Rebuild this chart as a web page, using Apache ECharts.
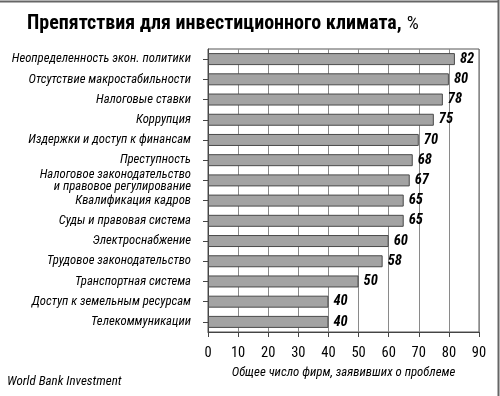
<!DOCTYPE html>
<html><head><meta charset="utf-8">
<script src="https://cdn.jsdelivr.net/npm/echarts@6/dist/echarts.min.js"></script>
<style>html,body{margin:0;padding:0;background:#fff}#c{width:500px;height:396px}</style>
</head><body><div id="c"></div>
<script>
var categories = [
  "Неопределенность экон. политики",
  "Отсутствие макростабильности",
  "Налоговые ставки",
  "Коррупция",
  "Издержки и доступ к финансам",
  "Преступность",
  "Налоговое законодательство\nи правовое регулирование",
  "Квалификация кадров",
  "Суды и правовая система",
  "Электроснабжение",
  "Трудовое законодательство",
  "Транспортная система",
  "Доступ к земельным ресурсам",
  "Телекоммуникации"
];
var values = [82, 80, 78, 75, 70, 68, 67, 65, 65, 60, 58, 50, 40, 40];
var xTicks = [0, 10, 20, 30, 40, 50, 60, 70, 80, 90];
var titleText = "Препятствия для инвестиционного климата,";
var xAxisName = "Общее число фирм, заявивших о проблеме";
var sourceText = "World Bank Investment";

var FONT = "'Roboto Condensed','Liberation Sans',sans-serif";
var chart = echarts.init(document.getElementById('c'), null, {renderer: 'canvas'});
chart.setOption({
  animation: false,
  backgroundColor: '#fff',
  title: {
    text: '{b|' + titleText + '} {p|%}',
    left: 22, top: 9,
    textStyle: {
      rich: {
        b: {fontFamily: FONT, fontWeight: 'bold', fontSize: 20, color: '#000'},
        p: {fontFamily: FONT, fontWeight: 'normal', fontSize: 19, color: '#000'}
      }
    }
  },
  grid: {left: 208, right: 21, top: 49, bottom: 64, show: true, borderColor: '#555', borderWidth: 1, containLabel: false, outerBoundsMode: 'none'},
  xAxis: {
    type: 'value', min: 0, max: 90, interval: 10,
    axisLine: {show: true, lineStyle: {color: '#444', width: 1}},
    axisTick: {show: true, length: 5, lineStyle: {color: '#444'}},
    axisLabel: {fontFamily: FONT, fontSize: 14.5, color: '#000', margin: 14,
      formatter: function (v) { return xTicks.indexOf(v) >= 0 ? String(v) : ''; }},
    splitLine: {show: true, lineStyle: {color: '#8a8a8a', width: 1}},
    name: xAxisName, nameLocation: 'middle', nameGap: 33,
    nameTextStyle: {fontFamily: FONT, fontStyle: 'italic', fontSize: 12.8, color: '#000'}
  },
  yAxis: {
    type: 'category', data: categories, inverse: true,
    axisLine: {show: true, lineStyle: {color: '#444'}},
    axisTick: {show: true, alignWithLabel: true, length: 5, lineStyle: {color: '#444'}},
    axisLabel: {fontFamily: FONT, fontStyle: 'italic', fontSize: 12.7, color: '#000', margin: 17, lineHeight: 12, align: 'right'},
    splitLine: {show: false}
  },
  series: [{
    type: 'bar', data: values, barWidth: 12,
    itemStyle: {color: '#a3a3a3', borderColor: '#4a4a4a', borderWidth: 1},
    label: {show: true, position: 'right', distance: 5, fontFamily: FONT, fontStyle: 'italic', fontWeight: 'bold', fontSize: 14.5, color: '#000'}
  }],
  graphic: [
    {type: 'text', left: 7, top: 375, style: {text: sourceText, fontFamily: FONT, fontStyle: 'italic', fontSize: 13, fill: '#000'}},
    {type: 'line', shape: {x1: 0, y1: 1.5, x2: 499, y2: 1.5}, style: {stroke: '#666', lineWidth: 2}},
    {type: 'line', shape: {x1: 498.5, y1: 0, x2: 498.5, y2: 396}, style: {stroke: '#666', lineWidth: 2}}
  ]
});
</script></body></html>
